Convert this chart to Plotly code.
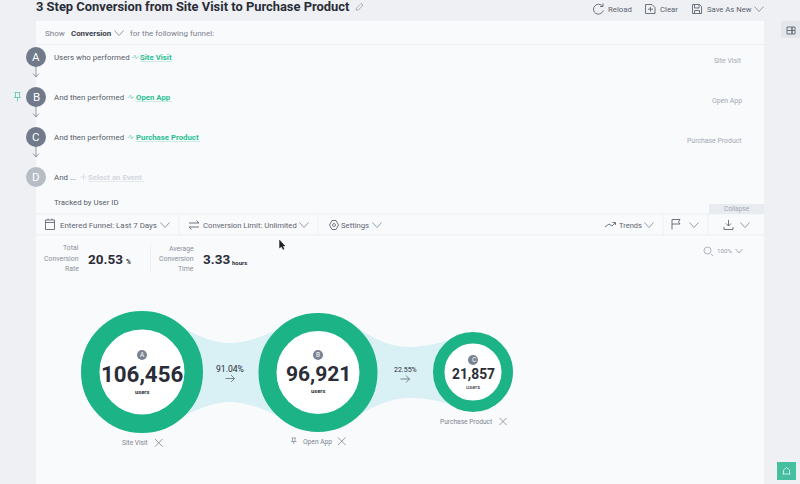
import plotly.graph_objects as go

# ---- data ----
steps = ["Site Visit", "Open App", "Purchase Product"]
step_letters = ["A", "B", "C"]
users = [106456, 96921, 21857]
step_rates = ["91.04%", "22.55%"]
total_rate = "20.53"
avg_time = "3.33"

# ---- layout of the marks ----
cx = [142, 318, 473]
cy = [372, 372.5, 372]
r_out = [61, 59.5, 40]
r_in = [42.5, 41.5, 28.5]

FONT = "Roboto"
DARK = "#2A2D37"
MID = "#5E6470"
SOFT = "#A3A8B3"
GREEN = "#1CB386"
LINK = "#2BBE93"
ICON = "#5F6672"

shapes, ann = [], []


def rect(x0, y0, x1, y1, fill, line=None):
    shapes.append(dict(type="rect", x0=x0, y0=y0, x1=x1, y1=y1, fillcolor=fill,
                       line=dict(color=line or fill, width=0 if not line else 1), layer="below"))


def path(d, color=ICON, w=1, fill=None):
    shapes.append(dict(type="path", path=d, line=dict(color=color, width=w),
                       fillcolor=fill or "rgba(0,0,0,0)", layer="below"))


def seg(x0, y0, x1, y1, color="#EDEFF3", w=1):
    shapes.append(dict(type="line", x0=x0, y0=y0, x1=x1, y1=y1,
                       line=dict(color=color, width=w), layer="below"))


def text(x, y, s, size=9, color=MID, anchor="left", font=FONT):
    nudge = {"left": -1, "right": 1, "center": 0}[anchor]
    ann.append(dict(x=x + nudge, y=y, text=s, showarrow=False, xanchor=anchor, yanchor="middle",
                    align=anchor, borderpad=0, font=dict(family=font, size=size, color=color)))


def chev(x, y, color="#8C929D", w=4.5, h=2.5):
    path(f"M{x-w},{y-h} L{x},{y+h} L{x+w},{y-h}", color, 0.9)


# page & panels
rect(0, 0, 800, 484, "#EEF0F4")
rect(36, 21, 764, 484, "#F9FAFC")
seg(36, 44.5, 764, 44.5)
seg(36, 214, 764, 214)
seg(36, 235, 764, 235)
seg(179, 214, 179, 235)
seg(318, 214, 318, 235)
seg(663, 214, 663, 235)
seg(708, 214, 708, 235)
seg(150.5, 244, 150.5, 272)
rect(709, 204, 764, 214, "#E8EBEF")
rect(781, 21, 800, 38, "#E3E6EB")
path("M787,27 H792 V34 H787 Z M792,27 H795 V34 H792 Z M787,30.5 H795", ICON, 0.9)

# ribbons (below the rings)
ribbon = "#D9F0F5"
path("M184,328 C205,340 218,343 230,343 C242,343 258,339 278,329 L278,416 "
     "C258,406 242,402 230,402 C218,402 205,405 184,416 Z", ribbon, 0, ribbon)
path("M358,328 C378,342 395,347 408,347 C420,347 434,345 448,340 L448,404 "
     "C434,399 420,398 408,398 C395,398 378,403 358,416 Z", ribbon, 0, ribbon)

# header
text(36, 6.5, "<b>3 Step Conversion from Site Visit to Purchase Product</b>", 12.9, DARK)
path("M356,10 L358.5,10 L363,5 L361,3.5 L356.5,8 Z", "#9EA3AD", 0.8)
path("M602.5,6 C600,3 594,4 593.5,9 C593.5,15 601,16 603.5,10.5 M603,3.5 L603,6.5 L600,6.5", ICON, 0.9)
text(608, 9, "Reload", 7.8, MID)
path("M645.5,4.5 H652 L655,7.5 V13.5 H645.5 Z M650.5,7 V11.5 M648,9.2 H653", ICON, 0.9)
text(660, 9, "Clear", 7.8, MID)
path("M692.5,4.5 H699.5 L701.5,6.5 V13.5 H692.5 Z M694.5,4.5 V8 H699 V4.5 M694.5,13.5 V10.5 H699.5 V13.5", ICON, 0.9)
text(706.5, 9, "Save As New", 7.7, MID)
chev(759, 9)

# show row
text(45, 33, "Show", 8, "#7B818C")
text(71, 33, "<b>Conversion</b>", 7.9, "#3B3F4A")
chev(119, 33)
text(130, 33, "for the following funnel:", 8, "#7B818C")

# funnel step rows
for i, (yy, label, lead) in enumerate([
    (57, steps[0], "Users who performed"),
    (97, steps[1], "And then performed"),
    (137, steps[2], "And then performed"),
]):
    text(54, yy, lead, 7.9, "#555B66")
    off = 132 if i == 0 else 127.5
    path(f"M{off},{yy+0.5} L{off+1.7},{yy+0.5} L{off+3},{yy-2} L{off+4.2},{yy+2} L{off+5.2},{yy} L{off+6.5},{yy}", "#7FD0B8", 0.7)
    text(off+8, yy, f"<b>{label}</b>", 7.8, LINK)
    w = [32, 36, 64.5][i]
    seg(off+8, yy+4.5, off+8+w, yy+4.5, "#BFE6DA", 0.8)
    text(742, yy+4, label, 6.9, SOFT, anchor="right")
    path(f"M36,{yy+8} V{yy+20} M33,{yy+16.5} L36,{yy+20} L39,{yy+16.5}", "#7E8592", 0.8)

# step badges as circles (real marks)
badge_y = [57, 97, 137, 177]
badge_col = ["#707A8B", "#707A8B", "#707A8B", "#B7BDC7"]
badge_letters = ["A", "B", "C", "D"]

path("M14.5,92.5 H20.5 M15.5,92.5 L15.5,97.5 M19.5,92.5 L19.5,97.5 M14,97.5 H21 M17.5,97.5 V101.5", "#55C9A6", 0.8)

text(54, 177, "And ...", 7.9, "#555B66")
path("M80.5,177 H86.5 M83.5,174 V180", "#D6DAE0", 0.8)
text(88, 177, "<b>Select an Event</b>", 7.8, "#D4D8DF")
seg(88, 181.5, 144, 181.5, "#E2E5EA", 0.8)
text(54, 202, "Tracked by User ID", 7.8, "#555B66")

# toolbar
path("M45.5,220 H54.5 V229.5 H45.5 Z M45.5,222.5 H54.5 M48,218.5 V220 M52,218.5 V220", ICON, 0.9)
text(60, 225, "Entered Funnel: Last 7 Days", 7.9, MID)
chev(165, 225)
path("M189,223 H199 L196.5,220.5 M199,227 H189 L191.5,229.5", ICON, 0.9)
text(203, 225, "Conversion Limit: Unlimited", 7.7, MID)
chev(304, 225)
path("M332,220.5 L336,220.5 L338.5,225 L336,229.5 L332,229.5 L329.5,225 Z", ICON, 0.9)
shapes.append(dict(type="circle", x0=332.5, y0=223.5, x1=335.5, y1=226.5, line=dict(color=ICON, width=0.8), layer="below"))
text(341, 225, "Settings", 7.7, MID)
chev(377, 225)
path("M605,227 L609,224 L612,226 L615,223 M612.5,222.5 H615.5 V225", ICON, 0.9)
text(618.5, 225, "Trends", 7.5, MID)
chev(649, 225)
path("M672,229.5 V219.5 H680 L678.5,222 L680,224 H672", ICON, 0.9)
chev(694, 225)
path("M724,227 V229.5 H733 V227 M728.5,220 V226 M726,223.5 L728.5,226 L731,223.5", ICON, 0.9)
chev(745, 225)
text(736.5, 208.5, "Collapse", 6.5, SOFT, anchor="center")

# summary
text(79, 248, "Total", 6.9, "#8B909B", anchor="right")
text(79, 258.5, "Conversion", 6.9, "#8B909B", anchor="right")
text(79, 268.5, "Rate", 6.9, "#8B909B", anchor="right")
text(87.5, 259, f"<b>{total_rate}</b>", 13.5, DARK)
text(126, 262, "<b>%</b>", 6.5, DARK)
text(194, 249, "Average", 6.9, "#8B909B", anchor="right")
text(194, 258.5, "Conversion", 6.9, "#8B909B", anchor="right")
text(194, 268.5, "Time", 6.9, "#8B909B", anchor="right")
text(203, 259, f"<b>{avg_time}</b>", 13.5, DARK)
text(232, 262, "<b>hours</b>", 6, DARK)

shapes.append(dict(type="circle", x0=704, y0=247, x1=711, y1=254, line=dict(color="#9AA0AB", width=0.8), layer="below"))
seg(711, 254, 713, 256, "#9AA0AB", 0.8)
text(717, 251, "100%", 6.2, "#9AA0AB")
chev(739, 251, "#9AA0AB", 3.5, 2)

# rate labels
for x, rate, y, sz in [(230, step_rates[0], 369, 8.6), (405, step_rates[1], 369.5, 7)]:
    text(x, y, rate, sz, DARK, anchor="center")
    path(f"M{x-4.5},{y+9.5} H{x+4.5} M{x+1},{y+6} L{x+4.5},{y+9.5} L{x+1},{y+13}", ICON, 0.8)

# close & labels under rings
text(122, 442.5, steps[0], 6.6, "#7E8490")
path("M155,439 L162.5,446.5 M162.5,439 L155,446.5", "#7E8490", 0.8)
path("M291.5,438 H296 M292.5,438 V441.5 M295,438 V441.5 M291,441.5 H296.5 M293.8,441.5 V444", "#7E8490", 0.7)
text(303, 441.5, steps[1], 6.7, "#7E8490")
path("M338,437.5 L345.5,445 M345.5,437.5 L338,445", "#7E8490", 0.8)
text(440, 421.5, steps[2], 6.6, "#7E8490")
path("M499.5,418 L506.5,425 M506.5,418 L499.5,425", "#7E8490", 0.8)

# numbers inside rings
num_sizes = [22.3, 21, 13.8]
num_y = [373.5, 373.5, 373.5]
lab_y = [391.5, 391, 386.5]
letter_y = [355, 355, 360]
for i in range(3):
    text(cx[i], num_y[i], f"<b>{users[i]:,}</b>", num_sizes[i], DARK, anchor="center")
    text(cx[i], lab_y[i], "<b>users</b>" if i < 2 else "users", 5.8, DARK, anchor="center")
    text(cx[i] + (0 if i < 2 else 0.5), letter_y[i], step_letters[i], 6.5, "#FFFFFF", anchor="center")

# pointer
path("M279.5,240 L279.5,248 L281.5,246.5 L283,249.5 L284,249 L282.8,246 L285,246 Z", "#1F2126", 0.4, "#1F2126")

# bottom-right helper button
rect(777, 462, 796, 480, "#45BFA0")
path("M782.5,474 H790.5 M783.5,474 V470 L786.5,467.5 L789.5,470 V474", "#E6F7F2", 0.8)

# sidebar left step badges text
for yy, ch in zip(badge_y, badge_letters):
    text(36, yy, ch, 11.5, "#FFFFFF", anchor="center")

fig = go.Figure()
# rings: white disc with a thick green outline
fig.add_trace(go.Scatter(
    x=cx, y=cy, mode="markers", hoverinfo="skip",
    marker=dict(size=[a + b for a, b in zip(r_out, r_in)], color="#FFFFFF", opacity=1,
                line=dict(color=GREEN, width=[a - b for a, b in zip(r_out, r_in)])),
))
fig.add_trace(go.Scatter(
    x=[36, 36, 36, 36], y=badge_y, mode="markers", hoverinfo="skip",
    marker=dict(size=20, color=badge_col, opacity=1),
))
fig.add_trace(go.Scatter(
    x=[cx[0], cx[1], cx[2]], y=letter_y, mode="markers", hoverinfo="skip",
    marker=dict(size=10, color="#7A8394", opacity=1),
))

fig.update_layout(
    width=800, height=484, margin=dict(l=0, r=0, t=0, b=0),
    showlegend=False, paper_bgcolor="#EEF0F4", plot_bgcolor="#EEF0F4",
    shapes=shapes, annotations=ann,
    xaxis=dict(range=[0, 800], visible=False, fixedrange=True),
    yaxis=dict(range=[484, 0], visible=False, fixedrange=True),
)
fig.write_html("out.html", config=dict(displayModeBar=False),
               post_script="document.body.style.margin='0';document.documentElement.style.overflow='hidden';")
